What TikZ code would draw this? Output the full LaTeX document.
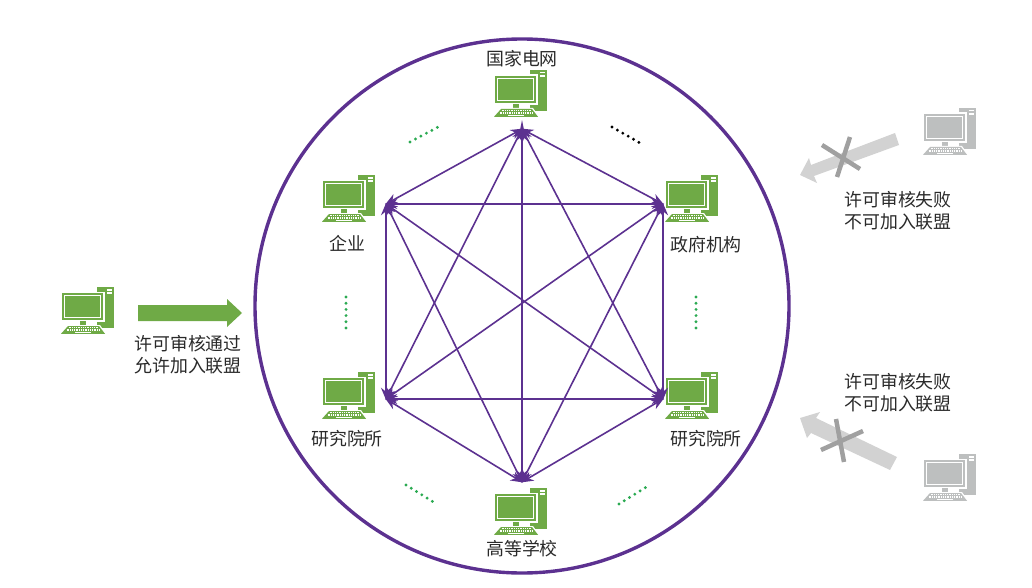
\documentclass[tikz,border=0pt]{standalone}
\usepackage{fontspec}
\setmainfont{Noto Sans CJK SC}
\usetikzlibrary{arrows.meta}
\definecolor{pcgreen}{HTML}{6FAA46}
\definecolor{pcgray}{HTML}{BDBFBF}
\definecolor{linkpurple}{HTML}{5C3190}
\definecolor{crossgray}{HTML}{A0A0A0}
\definecolor{arrowgray}{HTML}{D2D2D2}
\definecolor{labelink}{HTML}{2A2A2A}
\definecolor{dotgreen}{HTML}{2BAA52}
\tikzset{
  lbl/.style={font=\fontsize{17.9}{22}\selectfont,text=labelink,align=center,inner sep=0pt},
  link/.style={draw=linkpurple,line width=1.6pt,{Stealth[length=12pt,width=10pt]}-{Stealth[length=12pt,width=10pt]},shorten <=-1pt,shorten >=-1pt},
  hub/.style={inner sep=0pt,minimum size=0pt},
  dotsline/.style={line width=3.2pt,line cap=round,dash pattern=on 0pt off 6.2pt},
  crossbar/.style={draw=crossgray,line width=4.5pt},
  pics/computer/.style={code={
    % tower
    \fill[#1] (36,0) rectangle (53,41);
    \fill[white] (46,2) rectangle (51,3.5);
    \fill[white] (46,5) rectangle (51,6.8);
    % monitor
    \fill[white] (-.5,4.5) rectangle (44,35);
    \fill[#1] (1,6) rectangle (42,33);
    \fill[white] (3,8) rectangle (40,31);
    \fill[#1] (4.2,9.2) rectangle (38.8,29.8);
    % stand
    \fill[#1] (19,34) rectangle (25,38);
    % keyboard
    \fill[white] (6,38) -- (39,38) -- (46,48) -- (-1.5,48) -- cycle;
    \fill[#1] (7,39) -- (38,39) -- (44,46.8) -- (0,46.8) -- cycle;
    \draw[white,line width=1.3pt,dash pattern=on 1pt off .8pt] (7.5,40.8) -- (37.5,40.8);
    \draw[white,line width=1.3pt,dash pattern=on 1pt off .8pt] (5.5,43) -- (39,43);
    \fill[white] (14,44.8) rectangle (30,46);
  }}
}
\begin{document}
\begin{tikzpicture}[x=1pt,y=-1pt]
\useasboundingbox (0,0) rectangle (1032,588);
% ring
\node[hub] (ringc) at (522,306) {};
\draw[draw=linkpurple,line width=3.4pt] (ringc) circle[radius=267];
% computers
\pic at (494,70) {computer=pcgreen};
\pic at (665,175) {computer=pcgreen};
\pic at (322,175) {computer=pcgreen};
\pic at (322,372) {computer=pcgreen};
\pic at (665,372) {computer=pcgreen};
\pic at (494,488) {computer=pcgreen};
\pic at (61,287) {computer=pcgreen};
\pic at (923,108) {computer=pcgray};
\pic at (923,454) {computer=pcgray};
% hubs
\node[hub] (top) at (522,129) {};
\node[hub] (ur) at (663,204) {};
\node[hub] (lr) at (663,399) {};
\node[hub] (bot) at (522,482) {};
\node[hub] (ll) at (386,399) {};
\node[hub] (ul) at (386,204) {};
% links
\foreach \a/\b in {top/ur,ur/lr,lr/bot,bot/ll,ll/ul,ul/top,top/lr,top/bot,top/ll,ur/bot,ur/ll,ur/ul,lr/ll,lr/ul,bot/ul}
  \draw[link] (\a) -- (\b);
\fill[linkpurple] (522,120) -- (524,130) -- (520,130) -- cycle;
% ellipsis dots
\draw[dotsline,draw=dotgreen] (410,142) -- (438,127);
\draw[dotsline,draw=black] (612,127) -- (640,143);
\draw[dotsline,draw=dotgreen] (346,297) -- (346,329);
\draw[dotsline,draw=dotgreen] (696,297) -- (696,329);
\draw[dotsline,draw=dotgreen] (406,485) -- (435,503);
\draw[dotsline,draw=dotgreen] (619,504) -- (648,486);
% block arrows
\fill[pcgreen] (138,305) -- (227,305) -- (227,299) -- (242,313) -- (227,327) -- (227,321) -- (138,321) -- cycle;
\fill[arrowgray] (895,133) -- (899,145) -- (814,176) -- (817,183) -- (800,175) -- (809,158) -- (811,165) -- cycle;
\fill[arrowgray] (897,457) -- (890,470) -- (811,433) -- (807,438) -- (800,418) -- (820,412) -- (816,418) -- cycle;
% crosses
\draw[crossbar] (822,145) -- (860,169);
\draw[crossbar] (850,137) -- (837,177);
\draw[crossbar] (821,450) -- (863,431);
\draw[crossbar] (836,419) -- (844,462);
% labels
\node[lbl] (n1) at (522,59) {国家电网};
\node[lbl] (n2) at (706,245) {政府机构};
\node[lbl] (n3) at (347,243) {企业};
\node[lbl] (n4) at (347,439) {研究院所};
\node[lbl] (n5) at (706,439) {研究院所};
\node[lbl] (n6) at (522,549) {高等学校};
\node[lbl] (n7) at (188,355) {许可审核通过\\允许加入联盟};
\node[lbl] (n8) at (898,211) {许可审核失败\\不可加入联盟};
\node[lbl] (n9) at (898,393) {许可审核失败\\不可加入联盟};
\end{tikzpicture}
\end{document}
